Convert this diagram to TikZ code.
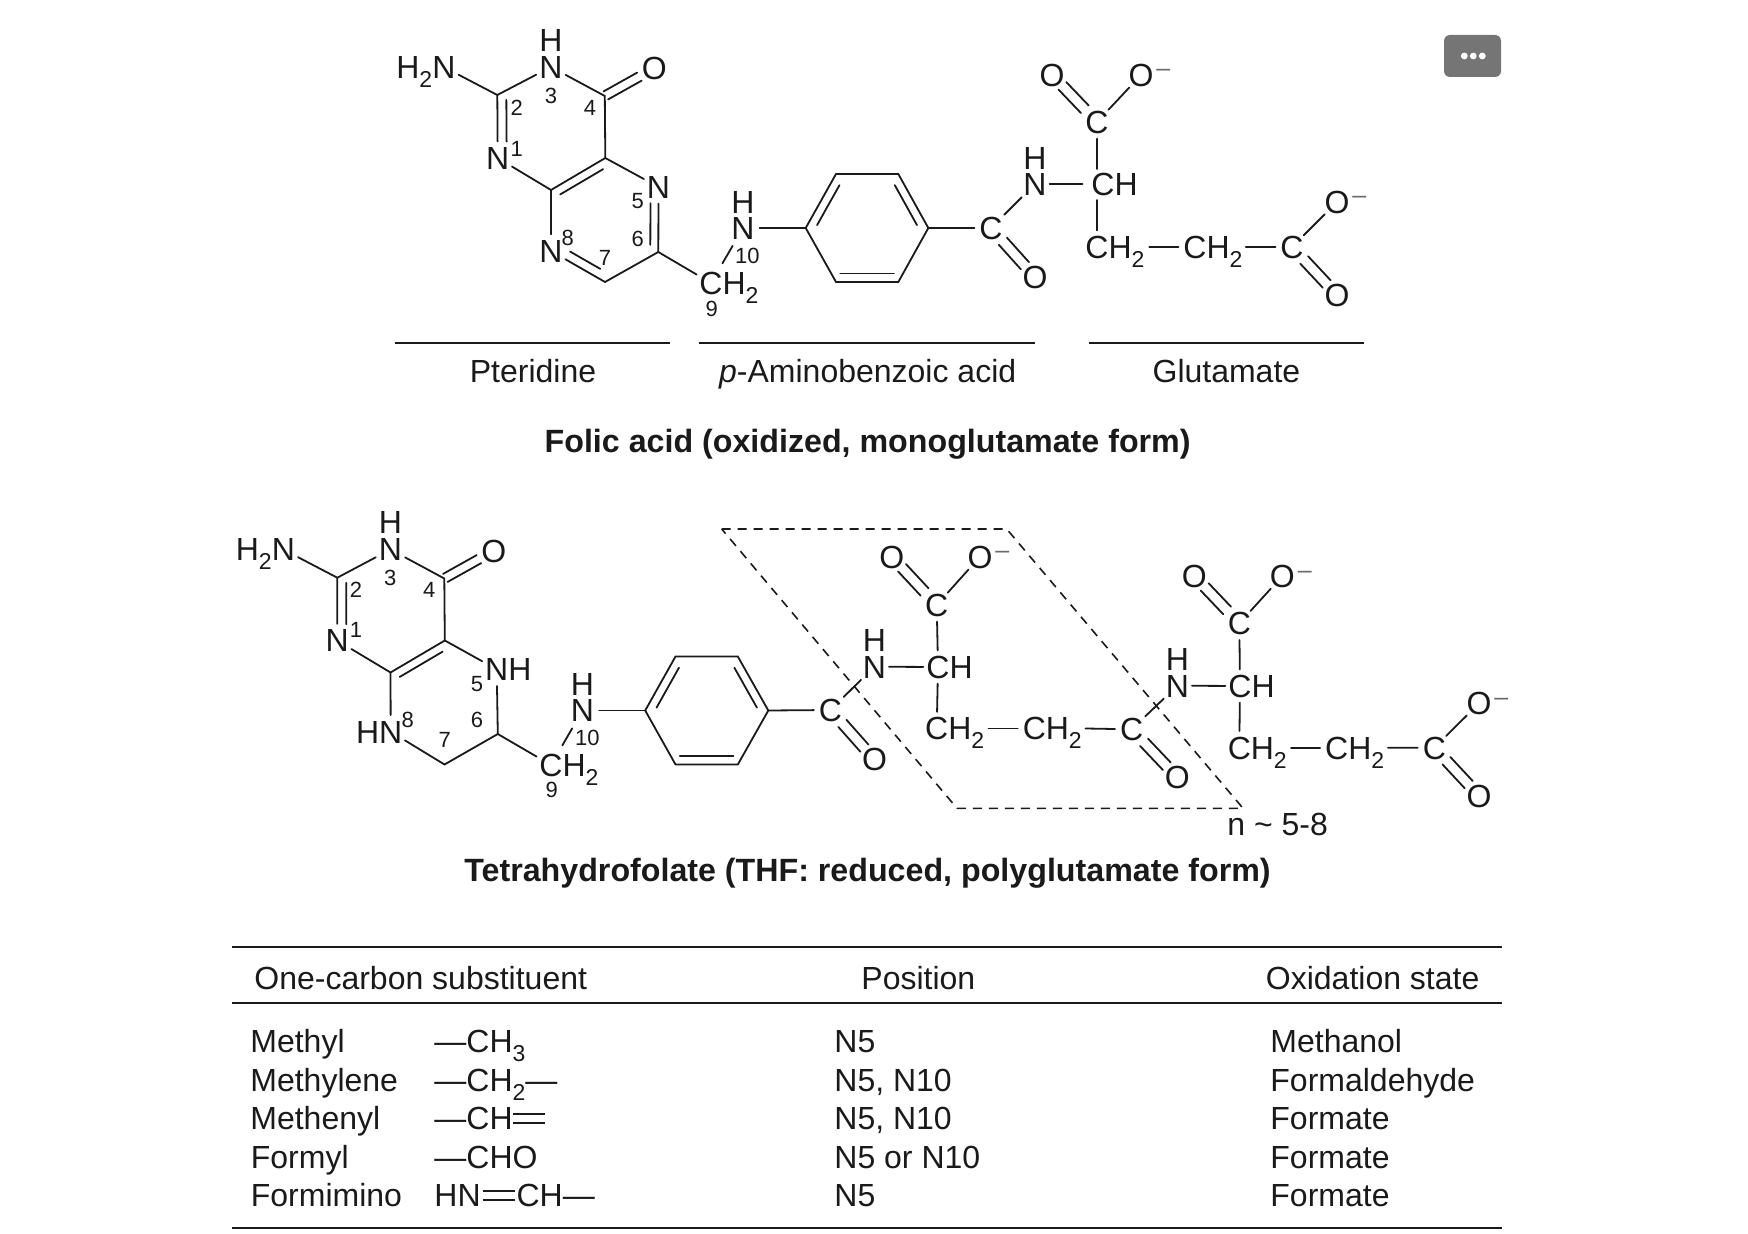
\documentclass[tikz,border=0pt]{standalone}
\usepackage{fontspec}
\setmainfont{Liberation Sans}
\usetikzlibrary{calc}
\definecolor{ink}{HTML}{1A1A1A}
\definecolor{btn}{HTML}{757575}
\newcommand\subt[1]{\raisebox{-4.5pt}{\fontsize{11.5pt}{11.5pt}\selectfont #1}}
\newcommand\minusch{\rlap{\hspace{1.5pt}\raisebox{4.7pt}{\fontsize{12.5pt}{12.5pt}\selectfont\textcolor{ink!65}{–}}}}
\newcommand\eqbar{\rlap{\rule[.18em]{1em}{.055em}}\rule[.47em]{1em}{.055em}}
% second line of a double bond: from a to b, offset to the left of the direction of travel
\newcommand\dbl[5]{\draw[bond] ($(#1)!#3!(#2)!#4!90:(#2)$) -- ($(#1)!#5!(#2)!#4!90:(#2)$);}
\newcommand\cdbl[2]{\dbl{#1}{#2}{.27}{2.7pt}{.77}\dbl{#1}{#2}{.27}{-2.7pt}{.77}}
\tikzset{
  bond/.style={draw=ink,line width=.9pt,line cap=round},
  rulel/.style={draw=ink,line width=.9pt},
  atom/.style={circle,inner sep=0pt,minimum size=16pt,text=ink,font=\fontsize{16pt}{18pt}\selectfont,text height=11.4pt,text depth=0pt,align=center},
  num/.style={inner sep=0pt,text=ink,font=\fontsize{11pt}{12pt}\selectfont,text height=7.9pt,text depth=0pt},
  txt/.style={inner sep=0pt,text=ink,anchor=base west,font=\fontsize{16pt}{18pt}\selectfont},
  ctxt/.style={inner sep=0pt,text=ink,anchor=base,font=\fontsize{16pt}{18pt}\selectfont},
  title/.style={inner sep=0pt,text=ink,anchor=base,font=\fontsize{16.1pt}{18pt}\selectfont\bfseries},
  near/.style={shorten <=-1pt,shorten >=-1pt}
}
\begin{document}
\begin{tikzpicture}[x=.5pt,y=-.5pt]
\useasboundingbox (0,0) rectangle (1748,1234);
% ---------- button
\fill[btn,rounded corners=3pt] (1444,35) rectangle (1501,77);
\foreach \bx in {1464.3,1473.3,1482.3} \fill[white] (\bx,56) circle (1.7pt);
% ---------- folic acid
\coordinate (ac2) at (497.3,95);
\coordinate (ac4) at (604.8,96);
\coordinate (ac4a) at (605.3,158);
\coordinate (ac8a) at (551,190);
\coordinate (ac6) at (658.3,252);
\coordinate (ac7) at (605,282);
\coordinate (abl) at (805.7,228);
\coordinate (abtl) at (836,174);
\coordinate (abtr) at (898.3,174);
\coordinate (abr) at (928.3,228);
\coordinate (abbr) at (898.3,282);
\coordinate (abbl) at (836,282);
\node[atom] (anh2) at (443.8,67) {\llap{H\subt{2}}N};
\node[atom] (an3) at (551,67) {N};
\node[atom] (ah3) at (551,40) {H};
\node[atom] (ao4) at (654.3,68.3) {O};
\node[atom] (an1) at (497.7,158) {N};
\node[atom] (an5) at (658.5,187) {N};
\node[atom] (an8) at (551,251) {N};
\node[atom] (ac9) at (711,283) {C\rlap{H\subt{2}}};
\node[atom] (an10) at (743,228) {N};
\node[atom] (ah10) at (743,202) {H};
\node[atom] (acc) at (991,228) {C};
\node[atom] (aoc) at (1035,277) {O};
\node[atom] (anp) at (1035,184) {N};
\node[atom] (ahp) at (1035,158) {H};
\node[atom] (ach) at (1103,184) {C\rlap{H}};
\node[atom] (acu) at (1097,122) {C};
\node[atom] (aou) at (1052,75) {O};
\node[atom] (aom) at (1141,75) {O\minusch};
\node[atom] (ag1) at (1097,247) {C\rlap{H\subt{2}}};
\node[atom] (ag2) at (1195,247) {C\rlap{H\subt{2}}};
\node[atom] (ag3) at (1292,247) {C};
\node[atom] (ago) at (1337,295) {O};
\node[atom] (agm) at (1337,202) {O\minusch};
\coordinate (ag1r) at (1149.3,247);
\coordinate (ag2r) at (1245.7,247);
\coordinate (achu) at (1097,169);
\coordinate (achd) at (1097,200);
\draw[bond] (anh2) -- (ac2) -- (an3) -- (ac4) -- (ac4a) -- (an5);
\draw[bond] (ac2) -- (an1) -- (ac8a) -- (ac4a);
\draw[bond] (ac8a) -- (an8) -- (ac7) -- (ac6) -- (an5);
\draw[bond] (ac6) -- (ac9);
\draw[bond,shorten <=3pt,shorten >=2pt] (ac9) -- (an10);
\draw[bond] (an10) -- (abl);
\draw[bond] (abl) -- (abtl) -- (abtr) -- (abr) -- (abbr) -- (abbl) -- (abl);
\draw[bond] (abr) -- (acc);
\draw[bond,shorten <=1pt,shorten >=1pt] (acc) -- (anp);
\draw[bond,shorten <=-1pt,shorten >=2pt] (anp) -- (ach);
\draw[bond] (achu) -- (acu) -- (aom);
\draw[bond] (achd) -- (ag1);
\draw[bond] (ag1r) -- (ag2);
\draw[bond] (ag2r) -- (ag3) -- (agm);
\dbl{ac2}{an1}{.08}{4.5pt}{.74}
\dbl{ac4a}{ac8a}{.12}{4.25pt}{.91}
\dbl{ac6}{an5}{.11}{4pt}{.75}
\dbl{an8}{ac7}{.27}{4.5pt}{.83}
\dbl{ac4}{ao4}{.02}{2.3pt}{.7}
\dbl{ac4}{ao4}{.02}{-2.3pt}{.7}
\dbl{abtl}{abl}{.13}{4.25pt}{.87}
\dbl{abbl}{abbr}{.07}{4.25pt}{.93}
\dbl{abr}{abtr}{.13}{4.25pt}{.87}
\cdbl{acc}{aoc}
\cdbl{acu}{aou}
\cdbl{ag3}{ago}
\node[num] (al2) at (516.7,107.3) {2};
\node[num] (al3) at (551,95.7) {3};
\node[num] (al4) at (590,107.3) {4};
\node[num] (al1) at (516.7,148.3) {1};
\node[num] (al5) at (637.7,201) {5};
\node[num] (al6) at (637.7,238.3) {6};
\node[num] (al7) at (605,257.3) {7};
\node[num] (al8) at (567.7,237.7) {8};
\node[num] (al9) at (711.7,308.3) {9};
\node[num] (al10) at (747.3,255.7) {10};
% brackets under folic acid
\coordinate (u1a) at (395,343); \coordinate (u1b) at (670,343);
\coordinate (u2a) at (699,343); \coordinate (u2b) at (1035,343);
\coordinate (u3a) at (1089,343); \coordinate (u3b) at (1364,343);
\draw[rulel] (u1a) -- (u1b);
\draw[rulel] (u2a) -- (u2b);
\draw[rulel] (u3a) -- (u3b);
\node[ctxt] (lpt) at (533,383) {Pteridine};
\node[ctxt] (lpa) at (867.7,383) {\textit{p}-Aminobenzoic acid};
\node[ctxt] (lgl) at (1226.4,383) {Glutamate};
\node[title] (tfa) at (867.6,452.5) {Folic acid (oxidized, monoglutamate form)};
% ---------- THF
\coordinate (bc2) at (337.3,577.7);
\coordinate (bc4) at (444.3,578.5);
\coordinate (bc4a) at (444.8,640.5);
\coordinate (bc8a) at (390.5,672.5);
\coordinate (bc6) at (497.8,734);
\coordinate (bc7) at (444.5,764.5);
\coordinate (bbl) at (645.2,710.5);
\coordinate (bbtl) at (675.5,656.5);
\coordinate (bbtr) at (737.8,656.5);
\coordinate (bbr) at (768.3,710.5);
\coordinate (bbbr) at (737.8,764.5);
\coordinate (bbbl) at (675.5,764.5);
\node[atom] (bnh2) at (283.3,549.5) {\llap{H\subt{2}}N};
\node[atom] (bn3) at (390.5,549.5) {N};
\node[atom] (bh3) at (390.5,522.5) {H};
\node[atom] (bo4) at (493.8,550.8) {O};
\node[atom] (bn1) at (337.2,640.5) {N};
\node[atom] (bn5) at (496.7,669.3) {N\rlap{H}};
\node[atom] (bn8) at (390.7,731.7) {\llap{H}N};
\node[atom] (bc9) at (551,765) {C\rlap{H\subt{2}}};
\node[atom] (bn10) at (582.5,710.5) {N};
\node[atom] (bh10) at (582.5,684.5) {H};
\node[atom] (bcc) at (830.5,710) {C};
\node[atom] (boc) at (874.5,759.5) {O};
\node[atom] (bnp) at (874.3,666.7) {N};
\node[atom] (bhp) at (874.3,640) {H};
\node[atom] (bch) at (938,667) {C\rlap{H}};
\node[atom] (bcu) at (936.7,605) {C};
\node[atom] (bou) at (891.7,556.7) {O};
\node[atom] (bom) at (980,556.7) {O\minusch};
\node[atom] (bg1) at (936.7,728.5) {C\rlap{H\subt{2}}};
\node[atom] (bg2) at (1034.3,728.5) {C\rlap{H\subt{2}}};
\node[atom] (bg3) at (1131.7,729.3) {C};
\node[atom] (bgo) at (1177.3,777.3) {O};
\node[atom] (dnp) at (1177.3,685.7) {N};
\node[atom] (dhp) at (1177.3,659.3) {H};
\node[atom] (dch) at (1240,686) {C\rlap{H}};
\node[atom] (dcu) at (1239.3,623.3) {C};
\node[atom] (dou) at (1194.3,576) {O};
\node[atom] (dom) at (1282.3,576) {O\minusch};
\node[atom] (dg1) at (1239.3,747.7) {C\rlap{H\subt{2}}};
\node[atom] (dg2) at (1336.7,747.7) {C\rlap{H\subt{2}}};
\node[atom] (dg3) at (1434.3,747.7) {C};
\node[atom] (dgo) at (1479,795.7) {O};
\node[atom] (dgm) at (1479,703.3) {O\minusch};
\coordinate (bg1r) at (988.5,728.5);
\coordinate (bg2r) at (1085.5,728.5);
\coordinate (dg1r) at (1291,747.7);
\coordinate (dg2r) at (1388,747.7);
\draw[bond] (bnh2) -- (bc2) -- (bn3) -- (bc4) -- (bc4a) -- (bn5);
\draw[bond] (bc2) -- (bn1) -- (bc8a) -- (bc4a);
\draw[bond] (bc8a) -- (bn8) -- (bc7) -- (bc6) -- (bn5);
\draw[bond] (bc6) -- (bc9);
\draw[bond,shorten <=3pt,shorten >=2pt] (bc9) -- (bn10);
\draw[bond] (bn10) -- (bbl);
\draw[bond] (bbl) -- (bbtl) -- (bbtr) -- (bbr) -- (bbbr) -- (bbbl) -- (bbl);
\draw[bond] (bbr) -- (bcc);
\draw[bond,shorten <=1pt,shorten >=1pt] (bcc) -- (bnp);
\draw[bond,near] (bnp) -- (bch);
\draw[bond] (bch) -- (bcu) -- (bom);
\draw[bond] (bch) -- (bg1);
\draw[bond] (bg1r) -- (bg2);
\draw[bond] (bg2r) -- (bg3);
\draw[bond,shorten <=1pt,shorten >=1pt] (bg3) -- (dnp);
\draw[bond,near] (dnp) -- (dch);
\draw[bond] (dch) -- (dcu) -- (dom);
\draw[bond] (dch) -- (dg1);
\draw[bond] (dg1r) -- (dg2);
\draw[bond] (dg2r) -- (dg3) -- (dgm);
\dbl{bc2}{bn1}{.08}{4.5pt}{.74}
\dbl{bc4a}{bc8a}{.12}{4.25pt}{.91}
\dbl{bc4}{bo4}{.02}{2.3pt}{.7}
\dbl{bc4}{bo4}{.02}{-2.3pt}{.7}
\dbl{bbtl}{bbl}{.13}{4.25pt}{.87}
\dbl{bbbl}{bbbr}{.07}{4.25pt}{.93}
\dbl{bbr}{bbtr}{.13}{4.25pt}{.87}
\cdbl{bcc}{boc}
\cdbl{bcu}{bou}
\cdbl{bg3}{bgo}
\cdbl{dcu}{dou}
\cdbl{dg3}{dgo}
\node[num] (ml2) at (356,589.3) {2};
\node[num] (ml3) at (390.3,577.7) {3};
\node[num] (ml4) at (429.3,589.3) {4};
\node[num] (ml1) at (356,630) {1};
\node[num] (ml5) at (477,683.3) {5};
\node[num] (ml6) at (477,720) {6};
\node[num] (ml7) at (444.7,740) {7};
\node[num] (ml8) at (407.7,720) {8};
\node[num] (ml9) at (551.7,790) {9};
\node[num] (ml10) at (587.3,737.7) {10};
% dashed repeat box
\coordinate (q1) at (721.7,529);
\coordinate (q2) at (1006.7,529);
\coordinate (q3) at (1243,808.3);
\coordinate (q4) at (957,808.3);
\draw[draw=ink,line width=.8pt,dash pattern=on 4.5pt off 3.5pt] (q1) -- (q2) -- (q3) -- (q4) -- cycle;
\node[txt] (nrep) at (1227,835) {n \textasciitilde{} 5-8};
\node[title] (tthf) at (867.5,881.5) {Tetrahydrofolate (THF: reduced, polyglutamate form)};
% ---------- table
\coordinate (t1a) at (232.3,947); \coordinate (t1b) at (1501.7,947);
\coordinate (t2a) at (232.3,1003); \coordinate (t2b) at (1501.7,1003);
\coordinate (t3a) at (232.3,1228.3); \coordinate (t3b) at (1501.7,1228.3);
\draw[rulel] (t1a) -- (t1b);
\draw[rulel] (t2a) -- (t2b);
\draw[rulel] (t3a) -- (t3b);
\node[txt] (h1) at (254,989.3) {One-carbon substituent};
\node[txt] (h2) at (861,989.3) {Position};
\node[txt] (h3) at (1265.5,989.3) {Oxidation state};
\node[txt] (r1a) at (250,1052) {Methyl};
\node[txt] (r2a) at (250,1091) {Methylene};
\node[txt] (r3a) at (250,1129.7) {Methenyl};
\node[txt] (r4a) at (250.5,1168.3) {Formyl};
\node[txt] (r5a) at (250.5,1206.7) {Formimino};
\node[txt] (r1b) at (434,1052) {—CH\subt{3}};
\node[txt] (r2b) at (434,1091) {—CH\subt{2}—};
\node[txt] (r3b) at (434,1129.7) {—CH\eqbar};
\node[txt] (r4b) at (434,1168.3) {—CHO};
\node[txt] (r5b) at (434,1206.7) {HN\kern1pt\eqbar\kern1pt{}CH—};
\node[txt] (r1c) at (834,1052) {N5};
\node[txt] (r2c) at (834,1091) {N5, N10};
\node[txt] (r3c) at (834,1129.7) {N5, N10};
\node[txt] (r4c) at (834,1168.3) {N5 or N10};
\node[txt] (r5c) at (834,1206.7) {N5};
\node[txt] (r1d) at (1270,1052) {Methanol};
\node[txt] (r2d) at (1270,1091) {Formaldehyde};
\node[txt] (r3d) at (1270,1129.7) {Formate};
\node[txt] (r4d) at (1270,1168.3) {Formate};
\node[txt] (r5d) at (1270,1206.7) {Formate};
\end{tikzpicture}
\end{document}
